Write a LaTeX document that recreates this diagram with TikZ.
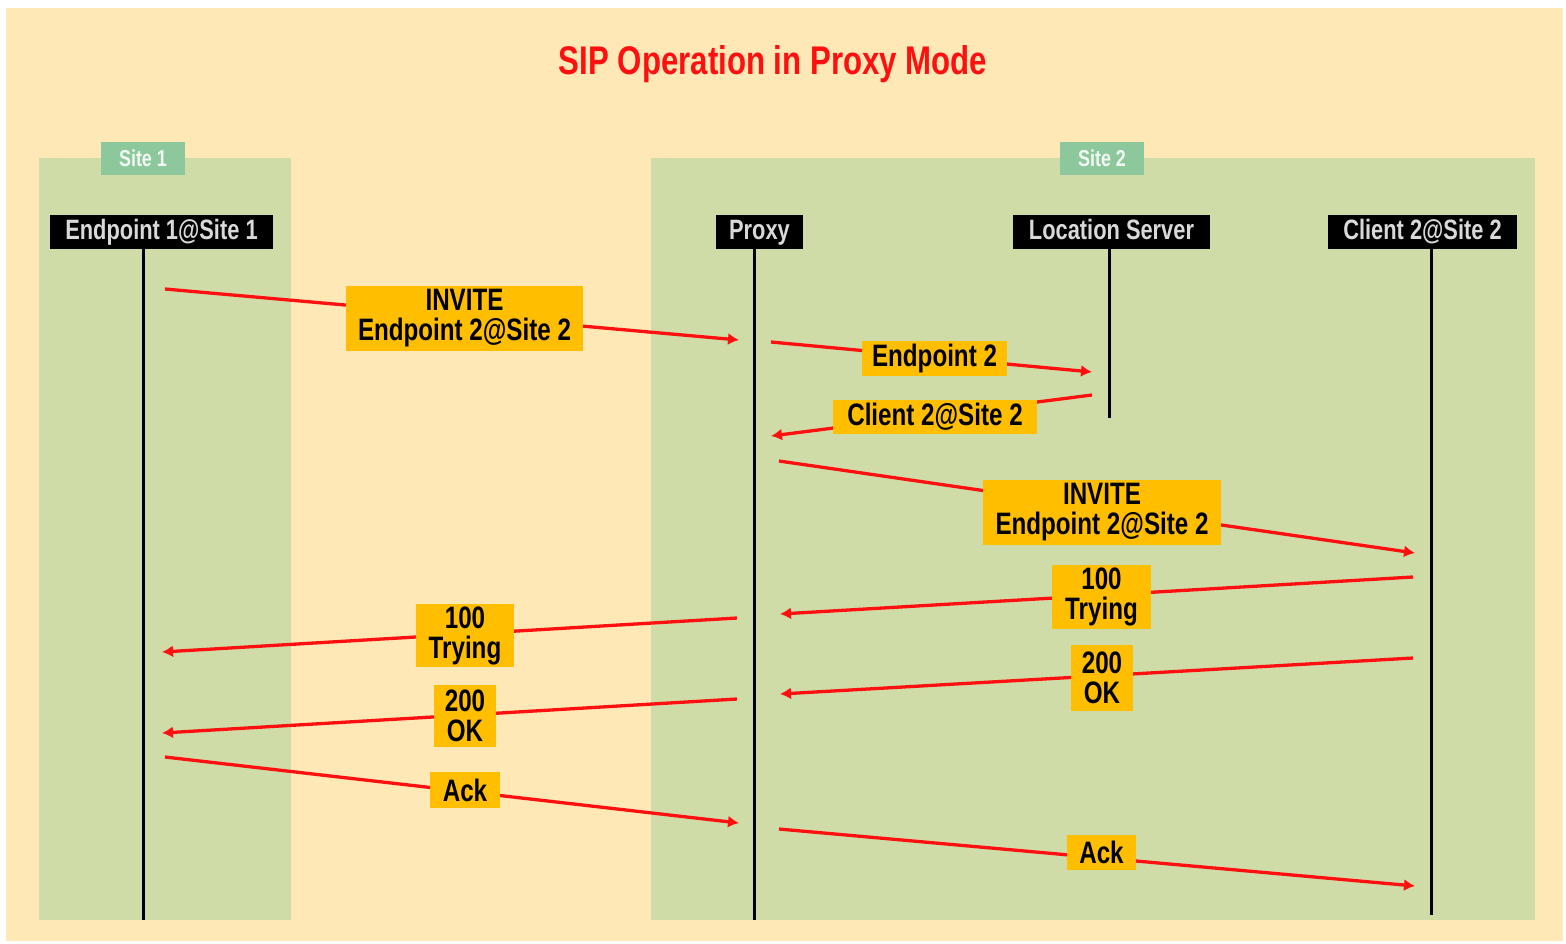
\documentclass[tikz,border=0pt]{standalone}
\usepackage{fontspec}
\setmainfont{Liberation Sans}[FakeStretch=0.78]
\usetikzlibrary{arrows.meta}
\definecolor{cream}{HTML}{FDE8B6}
\definecolor{panel}{HTML}{CFDCA8}
\definecolor{sitebox}{HTML}{8DC79C}
\definecolor{amber}{HTML}{FFBE00}
\definecolor{sipred}{HTML}{FF1010}
\tikzset{
  panelbox/.style={fill=panel, draw=none},
  sitelbl/.style={fill=sitebox, text=white!88!sitebox, font=\fontsize{23}{24}\selectfont\bfseries,
    minimum width=84pt, minimum height=33pt, inner sep=0pt, anchor=center},
  hdr/.style={fill=black, text=white!85!black, font=\fontsize{28}{29}\selectfont\bfseries,
    minimum height=34pt, inner sep=0pt, text height=21pt, text depth=6pt, anchor=center},
  life/.style={line width=3pt, black},
  msg/.style={line width=3.3pt, sipred, -{Latex[length=11pt,width=12pt]}},
  lbl/.style={fill=amber, text=black, font=\fontsize{31}{30}\selectfont\bfseries, align=center,
    inner sep=0pt, anchor=center},
}
\begin{document}
\begin{tikzpicture}[x=1pt,y=-1pt]
\useasboundingbox (0,0) rectangle (1566,943);
\fill[white] (0,0) rectangle (1566,943);
\fill[cream] (6,8) rectangle (1563,941);
% panels
\fill[panelbox] (39,158) rectangle (291,920);
\fill[panelbox] (651,158) rectangle (1535,920);
\node[sitelbl] (site1) at (143,158.5) {Site 1};
\node[sitelbl] (site2) at (1102,158.5) {Site 2};
% title
\node[text=sipred, font=\fontsize{40}{41}\selectfont\bfseries] (title) at (773,64) {SIP Operation in Proxy Mode};
% headers
\node[hdr, minimum width=223pt] (ep1) at (161.5,232) {Endpoint 1@Site 1};
\node[hdr, minimum width=87pt] (proxy) at (759.5,232) {Proxy};
\node[hdr, minimum width=197pt] (loc) at (1111.5,232) {Location Server};
\node[hdr, minimum width=189pt] (cl2) at (1422.5,232) {Client 2@Site 2};
% lifeline ends
\coordinate (ep1e) at (143,920);
\coordinate (proxye) at (754,920);
\coordinate (loce) at (1109,418);
\coordinate (cl2e) at (1431,915);
\draw[life] (ep1.south -| ep1e) -- (ep1e);
\draw[life] (proxy.south -| proxye) -- (proxye);
\draw[life] (loc.south -| loce) -- (loce);
\draw[life] (cl2.south -| cl2e) -- (cl2e);
% message end points
\coordinate (m1a) at (165,289);  \coordinate (m1b) at (739,340);
\coordinate (m2a) at (771,342);  \coordinate (m2b) at (1092,372);
\coordinate (m3a) at (1092,395); \coordinate (m3b) at (771,436);
\coordinate (m4a) at (779,461);  \coordinate (m4b) at (1415,553);
\coordinate (m5a) at (1413,577); \coordinate (m5b) at (780,614);
\coordinate (m6a) at (737,618);  \coordinate (m6b) at (162,652);
\coordinate (m7a) at (1413,658); \coordinate (m7b) at (780,694);
\coordinate (m8a) at (737,699);  \coordinate (m8b) at (162,733);
\coordinate (m9a) at (165,757);  \coordinate (m9b) at (739,823);
\coordinate (m10a) at (779,829); \coordinate (m10b) at (1415,886);
\draw[msg] (m1a) -- (m1b);
\draw[msg] (m2a) -- (m2b);
\draw[msg] (m3a) -- (m3b);
\draw[msg] (m4a) -- (m4b);
\draw[msg] (m5a) -- (m5b);
\draw[msg] (m6a) -- (m6b);
\draw[msg] (m7a) -- (m7b);
\draw[msg] (m8a) -- (m8b);
\draw[msg] (m9a) -- (m9b);
\draw[msg] (m10a) -- (m10b);
% labels
\node[lbl, minimum width=237pt, minimum height=65pt] (l1) at (464.5,318.5) {INVITE\\Endpoint 2@Site 2};
\node[lbl, minimum width=145pt, minimum height=35pt] (l2) at (934.5,358.5) {Endpoint 2};
\node[lbl, minimum width=204pt, minimum height=34pt] (l3) at (935,417) {Client 2@Site 2};
\node[lbl, minimum width=238pt, minimum height=65pt] (l4) at (1102,512.5) {INVITE\\Endpoint 2@Site 2};
\node[lbl, minimum width=99pt, minimum height=64pt] (l5) at (1101.5,597) {100\\Trying};
\node[lbl, minimum width=98pt, minimum height=63pt] (l6) at (465,635.5) {100\\Trying};
\node[lbl, minimum width=62pt, minimum height=66pt] (l7) at (1102,678) {200\\OK};
\node[lbl, minimum width=62pt, minimum height=62pt] (l8) at (465,716) {200\\OK};
\node[lbl, minimum width=70pt, minimum height=36pt] (l9) at (465,790) {Ack};
\node[lbl, minimum width=69pt, minimum height=35pt] (l10) at (1101.5,852.5) {Ack};
\end{tikzpicture}
\end{document}
